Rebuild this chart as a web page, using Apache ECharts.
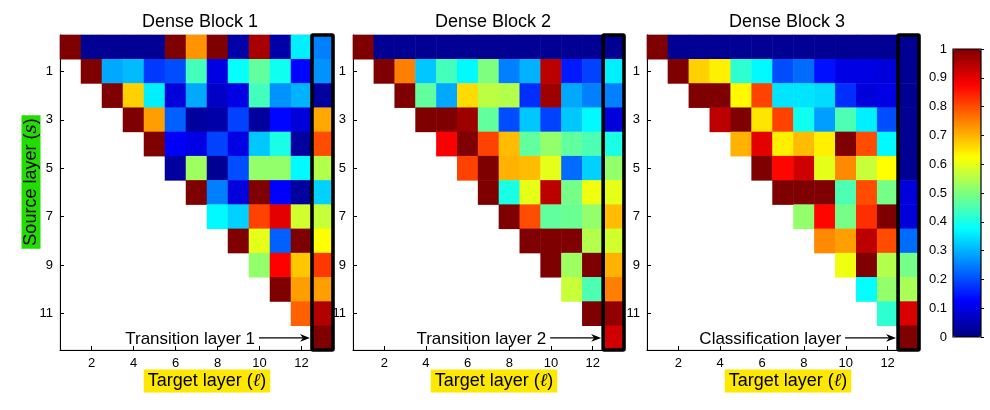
<!DOCTYPE html>
<html>
<head>
<meta charset="utf-8">
<script src="https://cdn.jsdelivr.net/npm/echarts@6/dist/echarts.min.js"></script>
<style>
html,body{margin:0;padding:0;background:#fff;}
#chart{width:990px;height:410px;}
</style>
</head>
<body>
<div id="chart"></div>
<script>
// ---- data ----
const panelTitles = ['Dense Block 1', 'Dense Block 2', 'Dense Block 3'];
const annotations = ['Transition layer 1', 'Transition layer 2', 'Classification layer'];
const targetLayers = ['1','2','3','4','5','6','7','8','9','10','11','12','13'];
const sourceLayers = ['0','1','2','3','4','5','6','7','8','9','10','11','12'];
const xTickLabels = ['2','4','6','8','10','12'];
const yTickLabels = ['1','3','5','7','9','11'];
const colorbarTicks = [0, 0.1, 0.2, 0.3, 0.4, 0.5, 0.6, 0.7, 0.8, 0.9, 1];

// each row s lists values for target columns s+1 .. 13 (last = transition / classification)
const block1 = [
  [1.0, 0.02, 0.02, 0.02, 0.02, 1.0, 0.73, 1.0, 0.04, 0.96, 0.04, 0.36, 0.25],
  [1.0, 0.29, 0.31, 0.18, 0.2, 0.44, 0.1, 0.38, 0.47, 0.39, 0.13, 0.27],
  [1.0, 0.67, 0.36, 0.09, 0.29, 0.07, 0.1, 0.44, 0.27, 0.3, 0.03],
  [1.0, 0.72, 0.22, 0.03, 0.04, 0.19, 0.03, 0.13, 0.09, 0.71],
  [1.0, 0.12, 0.1, 0.19, 0.1, 0.32, 0.4, 0.03, 0.8],
  [0.03, 0.53, 0.02, 0.2, 0.52, 0.52, 0.37, 0.55],
  [1.0, 0.25, 0.09, 1.0, 0.12, 0.03, 0.33],
  [0.37, 0.33, 0.81, 0.9, 0.58, 0.57],
  [1.0, 0.6, 0.22, 1.0, 0.625],
  [0.52, 0.875, 0.68, 0.82],
  [1.0, 0.72, 0.72],
  [0.78, 0.95],
  [1.0]
];
const block2 = [
  [1.0, 0.02, 0.02, 0.02, 0.02, 0.02, 0.02, 0.02, 0.02, 0.02, 0.02, 0.02, 0.02],
  [1.0, 0.75, 0.32, 0.44, 0.37, 0.5, 0.25, 0.3, 0.94, 0.15, 0.19, 0.36],
  [1.0, 0.47, 0.29, 0.66, 0.56, 0.55, 0.17, 0.97, 0.29, 0.25, 0.25],
  [1.0, 1.0, 0.97, 0.47, 0.2, 0.32, 0.19, 0.32, 0.37, 0.09],
  [0.88, 1.0, 0.81, 0.69, 0.47, 0.52, 0.47, 0.45, 0.4],
  [0.81, 1.0, 0.7, 0.69, 0.6, 0.23, 0.33, 0.52],
  [1.0, 0.4, 0.6, 0.94, 0.49, 0.61, 0.6],
  [1.0, 0.8, 0.47, 0.48, 0.52, 0.69],
  [1.0, 1.0, 1.0, 0.55, 0.58],
  [1.0, 0.53, 1.0, 0.7],
  [0.57, 0.45, 0.75],
  [1.0, 0.98],
  [0.92]
];
const block3 = [
  [1.0, 0.02, 0.02, 0.02, 0.02, 0.02, 0.02, 0.02, 0.02, 0.02, 0.02, 0.02, 0.02],
  [1.0, 0.67, 0.64, 0.42, 0.37, 0.2, 0.23, 0.14, 0.1, 0.1, 0.09, 0.02],
  [1.0, 1.0, 0.63, 0.81, 0.35, 0.35, 0.34, 0.17, 0.09, 0.1, 0.02],
  [0.94, 1.0, 0.65, 0.81, 0.39, 0.28, 0.45, 0.36, 0.2, 0.02],
  [0.7, 0.9, 0.64, 0.69, 0.64, 1.0, 0.8, 0.37, 0.02],
  [1.0, 0.87, 0.92, 0.6, 0.74, 0.57, 0.625, 0.02],
  [1.0, 1.0, 1.0, 0.45, 0.8, 0.49, 0.09],
  [0.52, 0.87, 0.49, 0.83, 1.0, 0.09],
  [0.74, 0.72, 0.94, 0.8, 0.23],
  [0.61, 1.0, 0.55, 0.49],
  [0.375, 0.52, 0.54],
  [0.42, 0.91],
  [1.0]
];
const blocks = [block1, block2, block3];

// ---- layout / style ----
const FONT = 'Liberation Sans, Arial, Helvetica, sans-serif';
const jet = ['#00007F','#0000FF','#007FFF','#00FFFF','#7FFF7F','#FFFF00','#FF7F00','#FF0000','#7F0000'];
const gridBoxes = [
  {left: 60, top: 35, width: 273, height: 315},
  {left: 353, top: 35, width: 271, height: 315},
  {left: 647, top: 35, width: 272, height: 315}
];
const titleX = [200, 493, 787];
const xNameX = [207, 494, 788];

function toCells(rows) {
  const out = [];
  rows.forEach((row, s) => {
    row.forEach((v, j) => out.push([s + j, s, v]));
  });
  return out;
}

const grid = [], xAxis = [], yAxis = [], series = [], heatIdx = [];
gridBoxes.forEach((g, i) => {
  grid.push(Object.assign({show: true, borderColor: '#c4c4c4', borderWidth: 1, backgroundColor: 'transparent'}, g));
  xAxis.push({
    type: 'category', gridIndex: i, data: targetLayers, position: 'bottom',
    axisLine: {show: true, lineStyle: {color: '#000', width: 1}},
    axisTick: {show: true, inside: true, length: 4, alignWithLabel: true,
      interval: (idx) => xTickLabels.includes(targetLayers[idx]), lineStyle: {color: '#000'}},
    axisLabel: {interval: (idx) => xTickLabels.includes(targetLayers[idx]),
      color: '#000', fontSize: 13, fontFamily: FONT, margin: 7},
    splitLine: {show: false}
  });
  yAxis.push({
    type: 'category', gridIndex: i, data: sourceLayers, inverse: true,
    axisLine: {show: true, lineStyle: {color: '#000', width: 1}},
    axisTick: {show: true, inside: true, length: 4, alignWithLabel: true,
      interval: (idx) => yTickLabels.includes(sourceLayers[idx]), lineStyle: {color: '#000'}},
    axisLabel: {interval: (idx) => yTickLabels.includes(sourceLayers[idx]),
      color: '#000', fontSize: 13, fontFamily: FONT, margin: 7},
    splitLine: {show: false}
  });
  heatIdx.push(series.length);
  series.push({
    type: 'heatmap', xAxisIndex: i, yAxisIndex: i,
    data: toCells(blocks[i]),
    itemStyle: {borderWidth: 0},
    emphasis: {disabled: true},
    progressive: 0
  });
  const label = annotations[i];
  series.push({
    type: 'custom', xAxisIndex: i, yAxisIndex: i, z: 5, silent: true, clip: false,
    data: [[targetLayers.length - 1, sourceLayers.length - 1]],
    renderItem: function (params, api) {
      const c = api.coord([api.value(0), api.value(1)]);
      const sz = api.size([1, 1]);
      const colLeft = c[0] - sz[0] / 2;
      const bottom = c[1] + sz[1] / 2;
      const nRows = sourceLayers.length;
      const tipX = colLeft - 2;
      return {
        type: 'group',
        children: [
          {type: 'rect', shape: {x: colLeft, y: bottom - nRows * sz[1], width: sz[0], height: nRows * sz[1], r: 1},
           style: {fill: null, stroke: '#000', lineWidth: 3.6}},
          {type: 'text', x: colLeft - 57, y: c[1] + 1,
           style: {text: label, fill: '#000', font: '17px ' + FONT, align: 'right', verticalAlign: 'middle'}},
          {type: 'line', shape: {x1: colLeft - 53, y1: c[1], x2: tipX - 6, y2: c[1]},
           style: {stroke: '#000', lineWidth: 1.2}},
          {type: 'polygon', shape: {points: [[tipX, c[1]], [tipX - 10, c[1] - 3.8], [tipX - 7, c[1]], [tipX - 10, c[1] + 3.8]]},
           style: {fill: '#000'}}
        ]
      };
    }
  });
});

// colorbar axes
grid.push({left: 953, top: 49, width: 28, height: 288, show: true, borderColor: '#000', borderWidth: 1.2, backgroundColor: 'transparent', z: 5});
xAxis.push({type: 'value', gridIndex: 3, show: false, min: 0, max: 1});
yAxis.push({
  type: 'value', gridIndex: 3, min: 0, max: 1, interval: 0.1, position: 'left', z: 6,
  axisLine: {show: false}, axisTick: {show: false}, splitLine: {show: false},
  axisLabel: {color: '#000', fontSize: 13, fontFamily: FONT, margin: 6,
    formatter: (v) => { const t = colorbarTicks.find(x => Math.abs(x - v) < 1e-6); return t === undefined ? '' : String(t); }}
});
yAxis.push({
  type: 'value', gridIndex: 3, min: 0, max: 1, interval: 0.1, position: 'right', z: 6,
  axisLine: {show: false}, axisLabel: {show: false}, splitLine: {show: false},
  axisTick: {show: true, length: 3, inside: false, lineStyle: {color: '#000'}}
});

const graphic = [];
panelTitles.forEach((t, i) => {
  graphic.push({type: 'text', x: titleX[i], y: 22, silent: true,
    style: {text: t, font: '18px ' + FONT, fill: '#000', align: 'center', verticalAlign: 'middle'}});
  graphic.push({type: 'text', x: xNameX[i], y: 381, silent: true,
    style: {text: 'Target layer ({l|ℓ})', font: '18px ' + FONT, fill: '#000', align: 'center', verticalAlign: 'middle',
      backgroundColor: '#FFE800', padding: [3, 4, 2, 4],
      rich: {l: {font: 'italic 18px DejaVu Serif, serif', fill: '#000'}}}});
});
graphic.push({type: 'text', x: 31, y: 182, rotation: Math.PI / 2, silent: true,
  style: {text: 'Source layer ({s|s})', font: '18px ' + FONT, fill: '#000', align: 'center', verticalAlign: 'middle',
    backgroundColor: '#22DD00', padding: [1, 3, 0, 3],
    rich: {s: {font: 'italic 18px DejaVu Serif, serif', fill: '#000'}}}});

const chart = echarts.init(document.getElementById('chart'), null, {renderer: 'canvas'});
chart.setOption({
  animation: false,
  backgroundColor: '#fff',
  grid, xAxis, yAxis, series, graphic,
  visualMap: {
    type: 'continuous', seriesIndex: heatIdx, min: 0, max: 1,
    show: true, calculable: false, hoverLink: false, text: null, showLabel: false,
    orient: 'vertical', left: 953, top: 49, itemWidth: 28, itemHeight: 288, padding: 0, z: 1,
    inRange: {color: jet}
  }
});
</script>
</body>
</html>
